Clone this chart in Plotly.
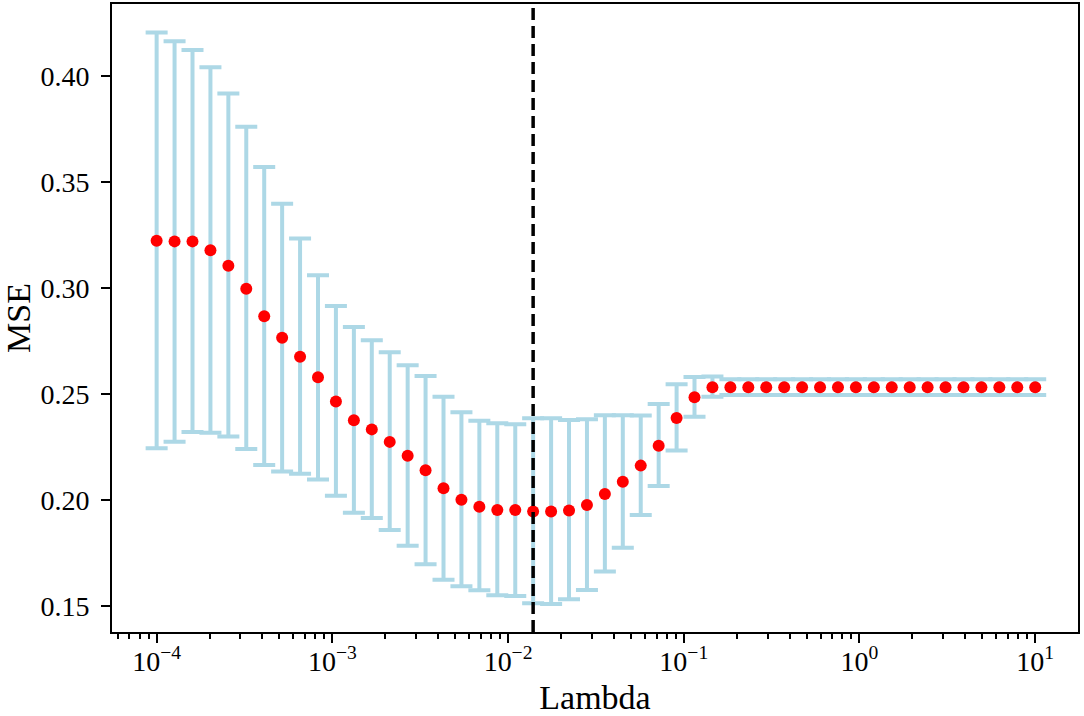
import plotly.graph_objects as go

# Lambda grid (50 values, log-spaced 1e-4 .. 1e1)
lambdas = [
    1.000e-4, 1.265e-4, 1.600e-4, 2.024e-4, 2.560e-4, 3.237e-4, 4.095e-4, 5.179e-4, 6.551e-4, 8.286e-4,
    1.048e-3, 1.326e-3, 1.677e-3, 2.121e-3, 2.683e-3, 3.393e-3, 4.292e-3, 5.429e-3, 6.866e-3, 8.685e-3,
    1.099e-2, 1.389e-2, 1.758e-2, 2.223e-2, 2.812e-2, 3.556e-2, 4.498e-2, 5.690e-2, 7.197e-2, 9.103e-2,
    0.1151, 0.1456, 0.1842, 0.2330, 0.2947, 0.3728, 0.4715, 0.5964, 0.7543, 0.9541,
    1.207, 1.526, 1.931, 2.442, 3.089, 3.907, 4.942, 6.251, 7.906, 10.0,
]

# mean cross-validated MSE
mse_mean = [
    0.3223, 0.3220, 0.3220, 0.3178, 0.3105, 0.2997, 0.2867, 0.2765, 0.2676, 0.2579,
    0.2464, 0.2376, 0.2333, 0.2274, 0.2209, 0.2140, 0.2055, 0.2001, 0.1968, 0.1953,
    0.1953, 0.1945, 0.1945, 0.1950, 0.1976, 0.2028, 0.2086, 0.2162, 0.2256, 0.2387,
    0.2485, 0.2532, 0.2532, 0.2532, 0.2532, 0.2532, 0.2532, 0.2532, 0.2532, 0.2532,
    0.2532, 0.2532, 0.2532, 0.2532, 0.2532, 0.2532, 0.2532, 0.2532, 0.2532, 0.2532,
]

# top / bottom of the error bars
mse_upper = [
    0.4206, 0.4164, 0.4123, 0.4041, 0.3918, 0.3761, 0.3571, 0.3398, 0.3234, 0.3060,
    0.2915, 0.2816, 0.2753, 0.2697, 0.2635, 0.2585, 0.2487, 0.2414, 0.2374, 0.2362,
    0.2357, 0.2385, 0.2385, 0.2377, 0.2381, 0.2400, 0.2400, 0.2398, 0.2453, 0.2546,
    0.2580, 0.2582, 0.2569, 0.2569, 0.2569, 0.2569, 0.2569, 0.2569, 0.2569, 0.2569,
    0.2569, 0.2569, 0.2569, 0.2569, 0.2569, 0.2569, 0.2569, 0.2569, 0.2569, 0.2569,
]
mse_lower = [
    0.2244, 0.2275, 0.2321, 0.2317, 0.2299, 0.2241, 0.2165, 0.2134, 0.2124, 0.2096,
    0.2020, 0.1940, 0.1915, 0.1858, 0.1784, 0.1697, 0.1623, 0.1593, 0.1574, 0.1550,
    0.1547, 0.1513, 0.1509, 0.1532, 0.1575, 0.1662, 0.1775, 0.1929, 0.2066, 0.2233,
    0.2393, 0.2487, 0.2495, 0.2495, 0.2495, 0.2495, 0.2495, 0.2495, 0.2495, 0.2495,
    0.2495, 0.2495, 0.2495, 0.2495, 0.2495, 0.2495, 0.2495, 0.2495, 0.2495, 0.2495,
]

best_lambda = 0.01389

x_tickvals = [1e-4, 1e-3, 1e-2, 1e-1, 1e0, 1e1]
x_ticktext = ['10<sup>−4</sup>', '10<sup>−3</sup>', '10<sup>−2</sup>',
              '10<sup>−1</sup>', '10<sup>0</sup>', '10<sup>1</sup>']

err_plus = [u - m for u, m in zip(mse_upper, mse_mean)]
err_minus = [m - l for m, l in zip(mse_mean, mse_lower)]

font_family = "Liberation Serif, Times New Roman, serif"

fig = go.Figure()

fig.add_trace(go.Scatter(
    x=lambdas, y=mse_mean,
    mode='markers',
    marker=dict(color='red', size=12, line=dict(width=0)),
    error_y=dict(
        type='data', symmetric=False,
        array=err_plus, arrayminus=err_minus,
        color='lightblue', thickness=4, width=11,
    ),
    showlegend=False,
))

# best lambda
fig.add_shape(
    type='line', xref='x', yref='paper',
    x0=best_lambda, x1=best_lambda, y0=0, y1=1,
    line=dict(color='black', width=3.5, dash='12px,6px'),
)

fig.update_layout(
    width=1084, height=716,
    margin=dict(l=112, r=6, t=4, b=84),
    plot_bgcolor='white', paper_bgcolor='white',
    font=dict(family=font_family, size=28, color='black'),
)

fig.update_xaxes(
    type='log', range=[-4.254, 1.2436],
    tickvals=x_tickvals, ticktext=x_ticktext,
    ticks='outside', ticklen=9, tickwidth=1.8, tickcolor='black',
    ticklabelstandoff=-6,
    minor=dict(ticks='outside', ticklen=5, tickwidth=1.5, tickcolor='black', dtick='D1', showgrid=False),
    showline=True, linewidth=2, linecolor='black', mirror=True,
    showgrid=False, zeroline=False, automargin=False,
    title=dict(text='Lambda', standoff=20),
)

fig.update_yaxes(
    range=[0.1377, 0.4340],
    tick0=0.15, dtick=0.05, tickformat='.2f',
    ticks='outside', ticklen=9, tickwidth=1.8, tickcolor='black',
    ticklabelstandoff=6,
    showline=True, linewidth=2, linecolor='black', mirror=True,
    showgrid=False, zeroline=False, automargin=False,
    title=dict(text='MSE', standoff=25),
)

# drop the default body margin so the figure fills the window exactly
fig.write_html("out.html", config={'displayModeBar': False},
               post_script="document.body.style.margin='0';")
